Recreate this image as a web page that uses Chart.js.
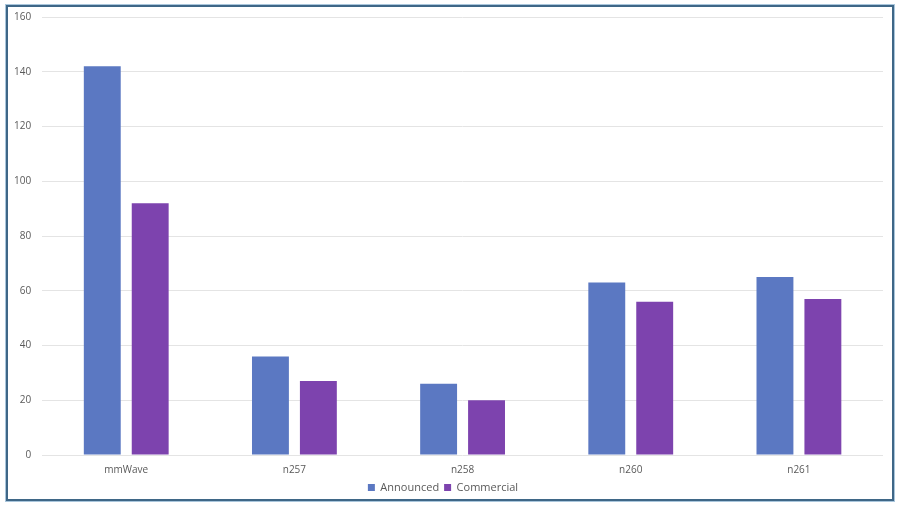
<!DOCTYPE html>
<html lang="en">
  <head>
    <meta charset="UTF-8" />
    <title>mmWave bands</title>
    <style>
      html,
      body {
        margin: 0;
        padding: 0;
        background: #fff;
      }
      .wrapper {
        position: relative;
        width: 900px;
        height: 508px;
        overflow: hidden;
      }
      .frame {
        position: absolute;
        left: 6px;
        top: 5px;
        width: 884px;
        height: 492px;
        border: 2px solid #3f6787;
        box-shadow: 0 0 0 1px #a9c6dc;
      }
      canvas {
        position: absolute;
        left: 0;
        top: 0;
      }
    </style>
  </head>
  <body>
    <div class="wrapper">
      <div class="frame"></div>
      <canvas id="chartBar" width="900" height="508"></canvas>
    </div>
    <script src="https://cdn.jsdelivr.net/npm/chart.js"></script>
    <script>
      const bands = ["mmWave", "n257", "n258", "n260", "n261"];
      const announced = [142, 36, 26, 63, 65];
      const commercial = [92, 27, 20, 56, 57];
      const yTicks = [0, 20, 40, 60, 80, 100, 120, 140, 160];

      Chart.defaults.font.family = "'Open Sans', 'Liberation Sans', sans-serif";
      Chart.defaults.font.size = 11;
      Chart.defaults.color = "#595959";

      new Chart(document.getElementById("chartBar"), {
        type: "bar",
        data: {
          labels: bands,
          datasets: [
            {
              label: "Announced",
              data: announced,
              backgroundColor: "#5b78c2",
              categoryPercentage: 0.57,
              barPercentage: 0.77,
            },
            {
              label: "Commercial",
              data: commercial,
              backgroundColor: "#7d43ae",
              categoryPercentage: 0.57,
              barPercentage: 0.77,
            },
          ],
        },
        options: {
          responsive: false,
          animation: false,
          layout: {
            padding: { left: 3, right: 17, top: 12, bottom: 5 },
          },
          scales: {
            x: {
              grid: { display: false },
              border: { display: false },
              ticks: { padding: 1, font: { size: 10 } },
            },
            y: {
              min: 0,
              max: 160,
              afterBuildTicks: (axis) => {
                axis.ticks = yTicks.map((v) => ({ value: v }));
              },
              grid: { color: "#e4e4e4", drawTicks: false },
              border: { display: false },
              ticks: { padding: 11, font: { size: 10 } },
            },
          },
          plugins: {
            legend: {
              position: "bottom",
              labels: {
                boxWidth: 7,
                boxHeight: 7,
                padding: 5,
                font: { size: 11 },
              },
            },
            tooltip: { enabled: false },
          },
        },
      });
    </script>
  </body>
</html>
